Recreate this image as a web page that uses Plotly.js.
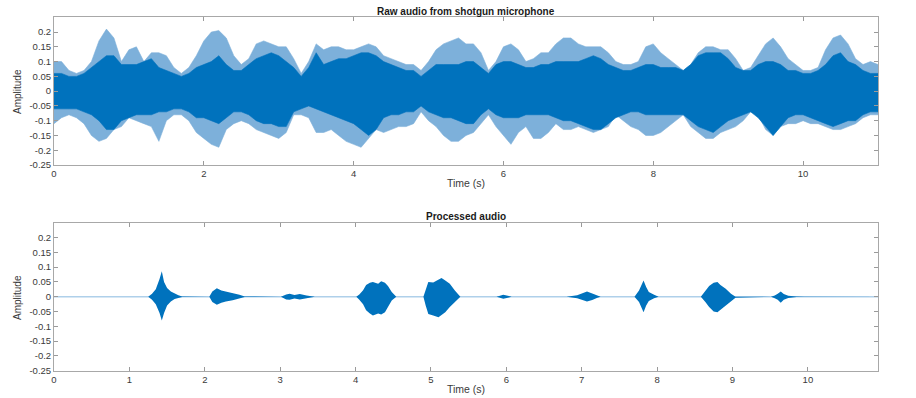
<!DOCTYPE html>
<html>
<head>
<meta charset="utf-8">
<script src="https://cdn.plot.ly/plotly-3.0.1.min.js"></script>
<style>html,body{margin:0;padding:0;background:#fff;}#chart{width:916px;height:398px;}</style>
</head>
<body>
<div id="chart"></div>
<script>
// ---------- Raw audio: envelope samples every 0.1 s ----------
var raw_t = [0,0.1,0.2,0.3,0.4,0.5,0.6,0.7,0.8,0.9,1.0,1.1,1.2,1.3,1.4,1.5,1.6,1.7,1.8,1.9,2.0,
  2.1,2.2,2.3,2.4,2.5,2.6,2.7,2.8,2.9,3.0,3.1,3.2,3.3,3.4,3.5,3.6,3.7,3.8,3.9,4.0,
  4.1,4.2,4.3,4.4,4.5,4.6,4.7,4.8,4.9,5.0,5.1,5.2,5.3,5.4,5.5,5.6,5.7,5.8,5.9,6.0,
  6.1,6.2,6.3,6.4,6.5,6.6,6.7,6.8,6.9,7.0,7.1,7.2,7.3,7.4,7.5,7.6,7.7,7.8,7.9,8.0,
  8.1,8.2,8.3,8.4,8.5,8.6,8.7,8.8,8.9,9.0,9.1,9.2,9.3,9.4,9.5,9.6,9.7,9.8,9.9,10.0,
  10.1,10.2,10.3,10.4,10.5,10.6,10.7,10.8,10.9,11.0];

// outer (light) envelope
var raw_outer_top = [0.10,0.10,0.07,0.06,0.07,0.10,0.17,0.21,0.18,0.10,0.14,
  0.15,0.10,0.13,0.13,0.12,0.08,0.06,0.08,0.12,0.17,
  0.20,0.205,0.18,0.12,0.09,0.11,0.16,0.17,0.16,0.15,
  0.15,0.11,0.06,0.10,0.16,0.14,0.15,0.15,0.14,0.14,
  0.15,0.16,0.15,0.12,0.11,0.10,0.09,0.09,0.07,0.10,
  0.14,0.16,0.17,0.18,0.16,0.16,0.13,0.07,0.10,0.15,
  0.16,0.14,0.10,0.11,0.13,0.13,0.16,0.18,0.18,0.16,
  0.15,0.15,0.15,0.13,0.10,0.09,0.09,0.10,0.15,0.16,
  0.13,0.11,0.09,0.07,0.09,0.13,0.15,0.15,0.14,0.14,
  0.11,0.07,0.08,0.12,0.16,0.18,0.15,0.11,0.09,0.07,
  0.07,0.08,0.14,0.18,0.19,0.16,0.11,0.09,0.10,0.09];
var raw_outer_bottom = [-0.11,-0.09,-0.08,-0.09,-0.11,-0.15,-0.17,-0.16,-0.13,-0.12,-0.09,
  -0.10,-0.11,-0.12,-0.17,-0.10,-0.08,-0.08,-0.10,-0.14,-0.16,
  -0.18,-0.19,-0.13,-0.11,-0.10,-0.11,-0.13,-0.14,-0.15,-0.16,
  -0.14,-0.08,-0.08,-0.09,-0.14,-0.14,-0.13,-0.15,-0.17,-0.18,
  -0.19,-0.16,-0.13,-0.14,-0.13,-0.12,-0.12,-0.11,-0.07,-0.10,
  -0.12,-0.15,-0.17,-0.17,-0.15,-0.14,-0.11,-0.08,-0.12,-0.15,
  -0.18,-0.14,-0.12,-0.16,-0.16,-0.14,-0.11,-0.13,-0.13,-0.12,
  -0.13,-0.14,-0.13,-0.12,-0.08,-0.10,-0.12,-0.13,-0.15,-0.15,
  -0.14,-0.12,-0.10,-0.08,-0.12,-0.14,-0.16,-0.16,-0.14,-0.13,
  -0.12,-0.10,-0.07,-0.08,-0.13,-0.15,-0.12,-0.11,-0.11,-0.10,
  -0.11,-0.11,-0.12,-0.13,-0.13,-0.12,-0.11,-0.09,-0.08,-0.08];

// inner (dark) envelope
var raw_inner_top = [0.06,0.06,0.05,0.05,0.06,0.08,0.10,0.12,0.12,0.09,0.09,
  0.09,0.10,0.11,0.08,0.07,0.06,0.05,0.06,0.08,0.09,
  0.10,0.12,0.09,0.07,0.07,0.09,0.11,0.12,0.13,0.12,
  0.10,0.08,0.05,0.08,0.13,0.09,0.10,0.11,0.11,0.12,
  0.13,0.13,0.12,0.10,0.09,0.08,0.07,0.07,0.05,0.07,
  0.09,0.09,0.09,0.09,0.10,0.10,0.08,0.06,0.09,0.10,
  0.10,0.09,0.08,0.08,0.09,0.09,0.10,0.10,0.10,0.10,
  0.11,0.12,0.11,0.09,0.08,0.07,0.07,0.08,0.09,0.09,
  0.08,0.08,0.08,0.07,0.09,0.12,0.13,0.13,0.13,0.11,
  0.08,0.07,0.07,0.09,0.10,0.10,0.09,0.07,0.07,0.06,
  0.06,0.07,0.09,0.12,0.13,0.10,0.09,0.07,0.06,0.06];
var raw_inner_bottom = [-0.06,-0.06,-0.06,-0.06,-0.07,-0.08,-0.10,-0.13,-0.13,-0.10,-0.09,
  -0.08,-0.08,-0.08,-0.07,-0.07,-0.06,-0.06,-0.07,-0.09,-0.09,
  -0.10,-0.11,-0.09,-0.07,-0.07,-0.08,-0.10,-0.11,-0.11,-0.12,
  -0.12,-0.07,-0.06,-0.05,-0.06,-0.07,-0.08,-0.09,-0.10,-0.11,
  -0.13,-0.15,-0.13,-0.09,-0.08,-0.08,-0.07,-0.07,-0.05,-0.07,
  -0.08,-0.09,-0.09,-0.10,-0.11,-0.11,-0.08,-0.06,-0.08,-0.09,
  -0.09,-0.09,-0.08,-0.08,-0.08,-0.08,-0.09,-0.10,-0.10,-0.11,
  -0.12,-0.13,-0.13,-0.11,-0.09,-0.08,-0.07,-0.07,-0.08,-0.08,
  -0.08,-0.08,-0.08,-0.08,-0.10,-0.12,-0.13,-0.14,-0.12,-0.10,
  -0.09,-0.08,-0.07,-0.09,-0.12,-0.15,-0.12,-0.09,-0.08,-0.08,
  -0.09,-0.10,-0.11,-0.12,-0.11,-0.10,-0.10,-0.08,-0.07,-0.07];

// ---------- Processed audio: envelope of each burst ----------
var proc_t = [0,1.25,1.30,1.35,1.40,1.43,1.46,1.50,1.55,1.60,1.65,1.70,
  2.06,2.10,2.16,2.22,2.28,2.37,2.46,2.53,
  3.01,3.08,3.125,3.19,3.26,3.35,3.46,
  4.01,4.05,4.10,4.14,4.19,4.23,4.30,4.34,4.39,4.43,4.48,4.54,
  4.90,4.93,4.965,5.03,5.10,5.14,5.19,5.25,5.32,5.39,
  5.87,5.96,6.07,
  6.80,6.94,7.00,7.07,7.14,7.20,7.25,
  7.70,7.76,7.79,7.82,7.855,7.89,7.96,8.02,
  8.58,8.64,8.69,8.75,8.80,8.84,8.91,8.98,9.04,
  9.51,9.56,9.60,9.64,9.68,9.74,9.85,9.95,
  10.93];
var proc_top = [0,0,0.010,0.025,0.060,0.086,0.050,0.030,0.018,0.010,0.005,0.001,
  0,0.018,0.029,0.021,0.018,0.013,0.007,0.001,
  0,0.008,0.010,0.006,0.009,0.004,0,
  0,0.008,0.022,0.040,0.047,0.050,0.044,0.052,0.047,0.036,0.016,0,
  0,0.020,0.050,0.048,0.059,0.063,0.055,0.044,0.020,0,
  0,0.007,0,
  0,0.005,0.010,0.018,0.011,0.004,0,
  0,0.021,0.038,0.055,0.033,0.016,0.007,0,
  0,0.020,0.036,0.047,0.050,0.040,0.027,0.010,0,
  0,0.004,0.010,0.018,0.009,0.003,0.001,0,
  0];
var proc_bottom = [0,0,-0.010,-0.025,-0.055,-0.080,-0.055,-0.030,-0.016,-0.008,-0.004,-0.001,
  0,-0.018,-0.027,-0.020,-0.016,-0.012,-0.006,-0.001,
  0,-0.009,-0.010,-0.006,-0.009,-0.004,0,
  0,-0.010,-0.025,-0.046,-0.057,-0.063,-0.057,-0.060,-0.052,-0.035,-0.013,0,
  0,-0.030,-0.058,-0.063,-0.069,-0.063,-0.052,-0.035,-0.016,0,
  0,-0.007,0,
  0,-0.005,-0.010,-0.016,-0.011,-0.004,0,
  0,-0.018,-0.035,-0.052,-0.030,-0.014,-0.005,0,
  0,-0.018,-0.035,-0.050,-0.052,-0.045,-0.028,-0.015,-0.003,
  0,-0.005,-0.010,-0.020,-0.010,-0.004,-0.001,0,
  0];

// ---------- Axis ticks ----------
var rawXTicks = [0,2,4,6,8,10];
var procXTicks = [0,1,2,3,4,5,6,7,8,9,10];
var ampTicks = [-0.25,-0.2,-0.15,-0.1,-0.05,0,0.05,0.1,0.15,0.2];
var ampTickText = ['-0.25','-0.2','-0.15','-0.1','-0.05','0','0.05','0.1','0.15','0.2'];

var DARK = 'rgb(0,114,189)';
var LIGHT = 'rgb(125,176,218)';
var BASE = 'rgb(175,208,234)';
var FONT = '"Liberation Sans", Arial, Helvetica, sans-serif';

function band(t, top, bot, color, lineW, xa, ya) {
  var rt = t.slice().reverse();
  var rb = bot.slice().reverse();
  return {
    x: t.concat(rt), y: top.concat(rb),
    type: 'scatter', mode: 'lines', fill: 'toself',
    fillcolor: color, line: {color: lineW > 0 ? color : 'rgba(0,0,0,0)', width: lineW},
    xaxis: xa, yaxis: ya, hoverinfo: 'skip', showlegend: false
  };
}

var traces = [
  band(raw_t, raw_outer_top, raw_outer_bottom, LIGHT, 0.6, 'x', 'y'),
  band(raw_t, raw_inner_top, raw_inner_bottom, DARK, 0.6, 'x', 'y'),
  {x: [proc_t[0], proc_t[proc_t.length-1]], y: [proc_top[0], proc_top[proc_top.length-1]],
   type: 'scatter', mode: 'lines', line: {color: BASE, width: 1.5},
   xaxis: 'x2', yaxis: 'y2', hoverinfo: 'skip', showlegend: false},
  band(proc_t, proc_top, proc_bottom, DARK, 0, 'x2', 'y2')
];

function axisStyle(extra) {
  var a = {
    ticks: 'inside', ticklen: 4, tickwidth: 1, tickcolor: '#9a9a9a',
    showline: true, linecolor: '#a8a8a8', linewidth: 1, mirror: 'ticks',
    showgrid: false, zeroline: false, fixedrange: true,
    tickfont: {family: FONT, size: 9.5, color: '#3a3a3a'}
  };
  for (var k in extra) a[k] = extra[k];
  return a;
}

var XD = [54/916, 878/916];
var layout = {
  width: 916, height: 398,
  margin: {l: 0, r: 0, t: 0, b: 0},
  paper_bgcolor: '#fff', plot_bgcolor: '#fff',
  showlegend: false,
  xaxis: axisStyle({domain: XD, range: [0, 11], anchor: 'y', tickmode: 'array', tickvals: rawXTicks}),
  yaxis: axisStyle({domain: [1-165/398, 1-17.3/398], range: [-0.25, 0.25], anchor: 'x',
    tickmode: 'array', tickvals: ampTicks, ticktext: ampTickText}),
  xaxis2: axisStyle({domain: XD, range: [0, 10.93], anchor: 'y2', tickmode: 'array', tickvals: procXTicks}),
  yaxis2: axisStyle({domain: [1-370.7/398, 1-222.8/398], range: [-0.25, 0.25], anchor: 'x2',
    tickmode: 'array', tickvals: ampTicks, ticktext: ampTickText}),
  annotations: [
    {text: '<b>Raw audio from shotgun microphone</b>', x: 466/916, y: 1-11.5/398, xref: 'paper', yref: 'paper',
     showarrow: false, xanchor: 'center', yanchor: 'middle', font: {family: FONT, size: 10, color: '#1a1a1a'}},
    {text: '<b>Processed audio</b>', x: 466/916, y: 1-216.5/398, xref: 'paper', yref: 'paper',
     showarrow: false, xanchor: 'center', yanchor: 'middle', font: {family: FONT, size: 10, color: '#1a1a1a'}},
    {text: 'Time (s)', x: 466/916, y: 1-183/398, xref: 'paper', yref: 'paper',
     showarrow: false, xanchor: 'center', yanchor: 'middle', font: {family: FONT, size: 10.5, color: '#3a3a3a'}},
    {text: 'Time (s)', x: 466/916, y: 1-389/398, xref: 'paper', yref: 'paper',
     showarrow: false, xanchor: 'center', yanchor: 'middle', font: {family: FONT, size: 10.5, color: '#3a3a3a'}},
    {text: 'Amplitude', x: 17.5/916, y: 1-91.5/398, xref: 'paper', yref: 'paper', textangle: -90,
     showarrow: false, xanchor: 'center', yanchor: 'middle', font: {family: FONT, size: 10, color: '#3a3a3a'}},
    {text: 'Amplitude', x: 17.5/916, y: 1-297.5/398, xref: 'paper', yref: 'paper', textangle: -90,
     showarrow: false, xanchor: 'center', yanchor: 'middle', font: {family: FONT, size: 10, color: '#3a3a3a'}}
  ]
};

Plotly.newPlot('chart', traces, layout, {staticPlot: true, displayModeBar: false});
</script>
</body>
</html>
